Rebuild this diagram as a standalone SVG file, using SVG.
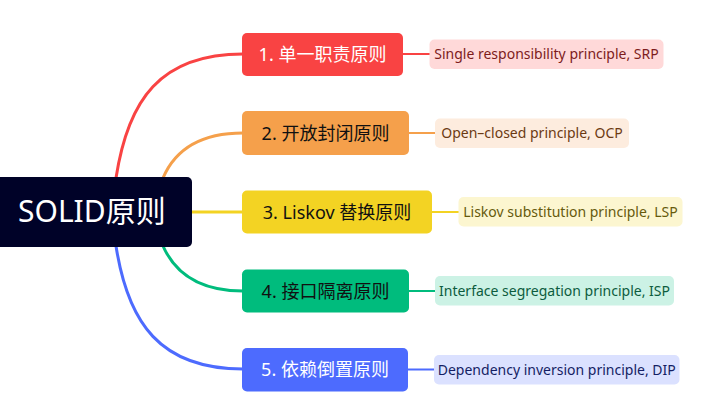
<svg xmlns="http://www.w3.org/2000/svg" width="720" height="412" viewBox="0 0 720 412">
<style>
text{font-family:"Noto Sans","Noto Sans CJK SC",sans-serif;}
.root-t{font-size:30px;fill:#ffffff;}
.n-t{font-size:18px;text-anchor:middle;}
.l-t{font-size:14px;text-anchor:middle;}
.curve{fill:none;stroke-width:3;stroke-linecap:round;}
.leafline{fill:none;stroke-width:2;}
</style>
<rect width="720" height="412" fill="#ffffff"/>
<g id="connectors">
<path class="curve" stroke="#F94343" d="M116 178 C128 100 160 54 243 54"/>
<path class="curve" stroke="#F5A04B" d="M163 178 C175 150 200 133 243 133"/>
<path class="curve" stroke="#F3D323" d="M190 212 L243 212"/>
<path class="curve" stroke="#00BC7D" d="M163 246 C175 273 200 291 243 291"/>
<path class="curve" stroke="#4D6BFE" d="M116 246 C128 323 160 369 243 369"/>
<path class="leafline" stroke="#F94343" d="M402 54 L430 54"/>
<path class="leafline" stroke="#F5A04B" d="M408 133 L436 133"/>
<path class="leafline" stroke="#F3D323" d="M431 212 L459 212"/>
<path class="leafline" stroke="#00BC7D" d="M408 291 L436 291"/>
<path class="leafline" stroke="#4D6BFE" d="M407 369.5 L435 369.5"/>
</g>
<g id="root">
<rect x="-10" y="177" width="202" height="70" rx="5" fill="#000228"/>
<text class="root-t" x="18" y="222">SOLID原则</text>
</g>
<g id="node1">
<rect x="242" y="33" width="161" height="43" rx="5" fill="#F94343"/>
<text class="n-t" x="322.5" y="61" fill="#ffffff">1. 单一职责原则</text>
</g>
<g id="node2">
<rect x="242" y="111" width="167" height="44" rx="5" fill="#F5A04B"/>
<text class="n-t" x="325.5" y="139.5" fill="#111111">2. 开放封闭原则</text>
</g>
<g id="node3">
<rect x="242" y="190.5" width="190" height="43" rx="5" fill="#F3D323"/>
<text class="n-t" x="337" y="218.5" fill="#111111">3. Liskov 替换原则</text>
</g>
<g id="node4">
<rect x="242" y="269.5" width="167" height="43" rx="5" fill="#00BC7D"/>
<text class="n-t" x="325.5" y="297.5" fill="#111111">4. 接口隔离原则</text>
</g>
<g id="node5">
<rect x="242" y="348" width="166" height="43.5" rx="5" fill="#4D6BFE"/>
<text class="n-t" x="325" y="376" fill="#ffffff">5. 依赖倒置原则</text>
</g>
<g id="leaf1">
<rect x="429.5" y="39.5" width="234" height="29.5" rx="5" fill="#FFD9D9"/>
<text class="l-t" x="546.5" y="59" fill="#7D1C1C">Single responsibility principle, SRP</text>
</g>
<g id="leaf2">
<rect x="435" y="118.5" width="194" height="29.5" rx="5" fill="#FDECDE"/>
<text class="l-t" x="532" y="138" fill="#6C3A12">Open–closed principle, OCP</text>
</g>
<g id="leaf3">
<rect x="458.5" y="197" width="224" height="29.5" rx="5" fill="#FCF6D0"/>
<text class="l-t" x="570.5" y="216.5" fill="#665A0C">Liskov substitution principle, LSP</text>
</g>
<g id="leaf4">
<rect x="435" y="276" width="239" height="29.5" rx="5" fill="#CCF2E5"/>
<text class="l-t" x="554.5" y="295.5" fill="#0C5C3E">Interface segregation principle, ISP</text>
</g>
<g id="leaf5">
<rect x="434" y="355" width="245.5" height="29.5" rx="5" fill="#DBE1FF"/>
<text class="l-t" x="556.75" y="374.5" fill="#141E64">Dependency inversion principle, DIP</text>
</g>
</svg>
